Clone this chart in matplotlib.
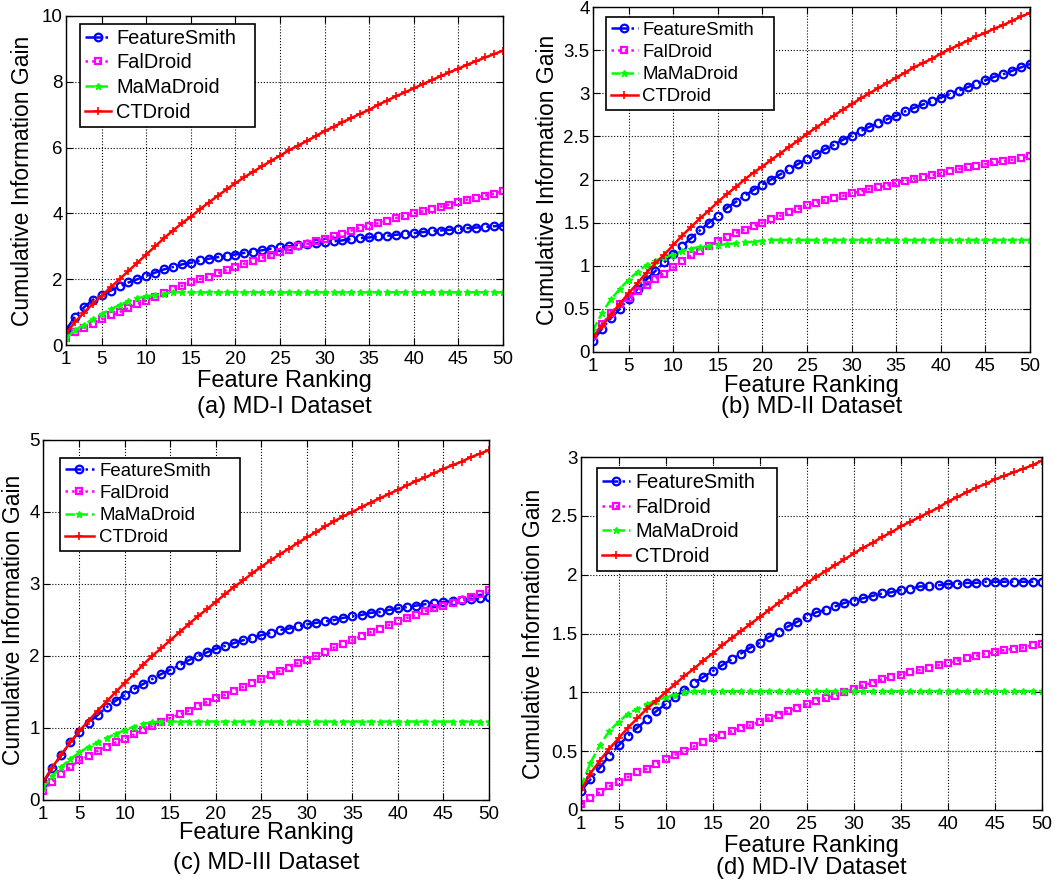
import matplotlib
matplotlib.use("Agg")
import matplotlib.pyplot as plt
from matplotlib.ticker import FormatStrFormatter
import numpy as np

plt.rcParams['font.family'] = ['Liberation Sans', 'DejaVu Sans']

ranks = list(range(1, 51))
methods = ["FeatureSmith", "FalDroid", "MaMaDroid", "CTDroid"]

# (a) MD-I
md1_featuresmith = [0.45, 0.86, 1.14, 1.37, 1.52, 1.65, 1.78, 1.90, 2.00, 2.10,
                    2.20, 2.30, 2.37, 2.45, 2.50, 2.57, 2.62, 2.67, 2.70, 2.75,
                    2.80, 2.84, 2.88, 2.93, 2.97, 3.00, 3.04, 3.07, 3.10, 3.12,
                    3.15, 3.18, 3.22, 3.25, 3.27, 3.30, 3.32, 3.35, 3.38, 3.40,
                    3.43, 3.46, 3.48, 3.50, 3.52, 3.55, 3.57, 3.59, 3.61, 3.63]
md1_faldroid = [0.22, 0.38, 0.52, 0.65, 0.78, 0.90, 1.00, 1.12, 1.25, 1.35,
                1.45, 1.57, 1.70, 1.80, 1.90, 2.00, 2.08, 2.18, 2.28, 2.38,
                2.47, 2.55, 2.65, 2.73, 2.82, 2.90, 3.00, 3.07, 3.15, 3.23,
                3.30, 3.38, 3.48, 3.57, 3.63, 3.70, 3.78, 3.86, 3.93, 4.00,
                4.06, 4.13, 4.20, 4.27, 4.35, 4.42, 4.48, 4.54, 4.60, 4.67]
md1_mamadroid = [0.22, 0.45, 0.62, 0.78, 0.95, 1.08, 1.22, 1.33, 1.42, 1.48,
                 1.52, 1.56, 1.60, 1.60, 1.60, 1.60, 1.60, 1.60, 1.60, 1.60,
                 1.60, 1.60, 1.60, 1.60, 1.60, 1.60, 1.60, 1.60, 1.60, 1.60,
                 1.60, 1.60, 1.60, 1.60, 1.60, 1.60, 1.60, 1.60, 1.60, 1.60,
                 1.60, 1.60, 1.60, 1.60, 1.60, 1.60, 1.60, 1.60, 1.60, 1.60]
md1_ctdroid = [0.35, 0.70, 0.98, 1.25, 1.50, 1.75, 2.00, 2.25, 2.50, 2.75,
               3.00, 3.25, 3.48, 3.70, 3.90, 4.12, 4.33, 4.53, 4.73, 4.92,
               5.10, 5.27, 5.43, 5.60, 5.75, 5.92, 6.06, 6.20, 6.35, 6.50,
               6.63, 6.77, 6.90, 7.03, 7.15, 7.30, 7.43, 7.56, 7.68, 7.80,
               7.93, 8.05, 8.17, 8.29, 8.40, 8.52, 8.63, 8.74, 8.84, 8.95]

# (b) MD-II
md2_featuresmith = [0.13, 0.27, 0.39, 0.50, 0.62, 0.73, 0.84, 0.94, 1.04, 1.14,
                    1.23, 1.32, 1.41, 1.50, 1.58, 1.67, 1.74, 1.81, 1.88, 1.94,
                    2.00, 2.06, 2.12, 2.18, 2.24, 2.29, 2.35, 2.40, 2.46, 2.51,
                    2.56, 2.61, 2.65, 2.70, 2.74, 2.79, 2.83, 2.87, 2.91, 2.95,
                    2.99, 3.03, 3.07, 3.11, 3.15, 3.19, 3.22, 3.26, 3.30, 3.34]
md2_faldroid = [0.18, 0.32, 0.45, 0.56, 0.63, 0.71, 0.78, 0.85, 0.91, 0.98,
                1.05, 1.12, 1.17, 1.23, 1.29, 1.33, 1.38, 1.42, 1.46, 1.50,
                1.54, 1.58, 1.62, 1.66, 1.70, 1.73, 1.76, 1.78, 1.81, 1.84,
                1.86, 1.89, 1.91, 1.93, 1.96, 1.98, 2.01, 2.03, 2.05, 2.07,
                2.10, 2.12, 2.14, 2.16, 2.18, 2.20, 2.21, 2.23, 2.25, 2.27]
md2_mamadroid = [0.25, 0.45, 0.61, 0.73, 0.84, 0.93, 1.01, 1.06, 1.10, 1.13,
                 1.17, 1.20, 1.22, 1.23, 1.24, 1.25, 1.26, 1.27, 1.28, 1.29,
                 1.30, 1.30, 1.30, 1.30, 1.30, 1.30, 1.30, 1.30, 1.30, 1.30,
                 1.30, 1.30, 1.30, 1.30, 1.30, 1.30, 1.30, 1.30, 1.30, 1.30,
                 1.30, 1.30, 1.30, 1.30, 1.30, 1.30, 1.30, 1.30, 1.30, 1.30]
md2_ctdroid = [0.17, 0.30, 0.43, 0.56, 0.68, 0.80, 0.92, 1.03, 1.13, 1.24,
               1.35, 1.45, 1.55, 1.64, 1.74, 1.83, 1.91, 2.00, 2.08, 2.15,
               2.23, 2.30, 2.38, 2.45, 2.53, 2.60, 2.67, 2.74, 2.81, 2.87,
               2.94, 3.00, 3.06, 3.12, 3.18, 3.24, 3.30, 3.35, 3.40, 3.46,
               3.51, 3.56, 3.61, 3.66, 3.70, 3.75, 3.79, 3.84, 3.89, 3.93]

# (c) MD-III
md3_featuresmith = [0.23, 0.44, 0.62, 0.80, 0.95, 1.07, 1.18, 1.29, 1.38, 1.46,
                    1.54, 1.61, 1.68, 1.75, 1.81, 1.87, 1.94, 2.00, 2.05, 2.10,
                    2.14, 2.18, 2.22, 2.25, 2.29, 2.32, 2.36, 2.38, 2.41, 2.44,
                    2.46, 2.48, 2.50, 2.53, 2.55, 2.57, 2.60, 2.61, 2.64, 2.66,
                    2.68, 2.70, 2.72, 2.73, 2.75, 2.76, 2.78, 2.79, 2.80, 2.82]
md3_faldroid = [0.13, 0.25, 0.36, 0.46, 0.55, 0.61, 0.68, 0.74, 0.80, 0.85,
                0.91, 0.97, 1.03, 1.08, 1.14, 1.19, 1.24, 1.30, 1.36, 1.41,
                1.46, 1.52, 1.57, 1.63, 1.68, 1.74, 1.79, 1.84, 1.90, 1.95,
                2.00, 2.06, 2.12, 2.17, 2.22, 2.28, 2.33, 2.38, 2.43, 2.48,
                2.53, 2.57, 2.62, 2.66, 2.70, 2.74, 2.78, 2.82, 2.86, 2.91]
md3_mamadroid = [0.17, 0.33, 0.46, 0.57, 0.66, 0.74, 0.80, 0.86, 0.92, 0.97,
                 1.02, 1.06, 1.08, 1.09, 1.09, 1.09, 1.09, 1.09, 1.09, 1.09,
                 1.09, 1.09, 1.09, 1.09, 1.09, 1.09, 1.09, 1.09, 1.09, 1.09,
                 1.09, 1.09, 1.09, 1.09, 1.09, 1.09, 1.09, 1.09, 1.09, 1.09,
                 1.09, 1.09, 1.09, 1.09, 1.09, 1.09, 1.09, 1.09, 1.09, 1.09]
md3_ctdroid = [0.25, 0.45, 0.63, 0.80, 0.96, 1.10, 1.24, 1.37, 1.50, 1.63,
               1.75, 1.88, 2.00, 2.11, 2.22, 2.33, 2.44, 2.55, 2.65, 2.75,
               2.86, 2.96, 3.05, 3.15, 3.24, 3.33, 3.41, 3.49, 3.57, 3.65,
               3.72, 3.80, 3.87, 3.94, 4.00, 4.07, 4.13, 4.19, 4.25, 4.31,
               4.37, 4.43, 4.48, 4.54, 4.60, 4.65, 4.70, 4.76, 4.81, 4.86]

# (d) MD-IV
md4_featuresmith = [0.16, 0.26, 0.36, 0.46, 0.55, 0.63, 0.70, 0.77, 0.84, 0.90,
                    0.96, 1.02, 1.08, 1.13, 1.18, 1.23, 1.28, 1.33, 1.38, 1.42,
                    1.47, 1.51, 1.56, 1.60, 1.64, 1.68, 1.70, 1.73, 1.76, 1.78,
                    1.80, 1.82, 1.84, 1.85, 1.87, 1.88, 1.90, 1.90, 1.91, 1.92,
                    1.92, 1.93, 1.93, 1.94, 1.94, 1.94, 1.94, 1.94, 1.94, 1.94]
md4_faldroid = [0.05, 0.10, 0.15, 0.20, 0.24, 0.28, 0.32, 0.35, 0.39, 0.43,
                0.47, 0.50, 0.54, 0.58, 0.61, 0.64, 0.67, 0.70, 0.72, 0.75,
                0.78, 0.81, 0.84, 0.87, 0.90, 0.93, 0.95, 0.97, 1.00, 1.03,
                1.06, 1.08, 1.11, 1.13, 1.15, 1.17, 1.19, 1.21, 1.23, 1.25,
                1.27, 1.29, 1.31, 1.33, 1.34, 1.36, 1.37, 1.38, 1.40, 1.41]
md4_mamadroid = [0.20, 0.40, 0.55, 0.67, 0.75, 0.82, 0.86, 0.90, 0.93, 0.96,
                 0.98, 1.00, 1.01, 1.01, 1.01, 1.01, 1.01, 1.01, 1.01, 1.01,
                 1.01, 1.01, 1.01, 1.01, 1.01, 1.01, 1.01, 1.01, 1.01, 1.01,
                 1.01, 1.01, 1.01, 1.01, 1.01, 1.01, 1.01, 1.01, 1.01, 1.01,
                 1.01, 1.01, 1.01, 1.01, 1.01, 1.01, 1.01, 1.01, 1.01, 1.01]
md4_ctdroid = [0.17, 0.31, 0.42, 0.52, 0.61, 0.70, 0.78, 0.86, 0.93, 1.00,
               1.07, 1.14, 1.20, 1.27, 1.33, 1.40, 1.46, 1.52, 1.58, 1.64,
               1.70, 1.76, 1.82, 1.87, 1.93, 1.98, 2.03, 2.08, 2.13, 2.18,
               2.23, 2.27, 2.32, 2.36, 2.41, 2.45, 2.49, 2.53, 2.57, 2.62,
               2.66, 2.70, 2.74, 2.77, 2.81, 2.84, 2.87, 2.90, 2.93, 2.97]

captions = ["(a) MD-I Dataset", "(b) MD-II Dataset",
            "(c) MD-III Dataset", "(d) MD-IV Dataset"]
y_max = [10, 4, 5, 3]
y_step = [2, 0.5, 1, 0.5]

datasets = [
    [md1_featuresmith, md1_faldroid, md1_mamadroid, md1_ctdroid],
    [md2_featuresmith, md2_faldroid, md2_mamadroid, md2_ctdroid],
    [md3_featuresmith, md3_faldroid, md3_mamadroid, md3_ctdroid],
    [md4_featuresmith, md4_faldroid, md4_mamadroid, md4_ctdroid],
]

W, H = 1055, 883
fig = plt.figure(figsize=(W / 100, H / 100), dpi=100)


def px_rect(left, top, right, bottom):
    return [left / W, 1 - bottom / H, (right - left) / W, (bottom - top) / H]


# panel frames in pixels: left, top, right, bottom
frames = [(66, 16, 503, 345), (593, 7, 1030, 352),
          (43, 440, 489, 800), (581, 457, 1042, 810)]
# legend box: left, top, width (axes fraction)
legend_box = [(0.032, 0.976, 0.400), (0.030, 0.971, 0.384),
              (0.038, 0.950, 0.404), (0.035, 0.969, 0.390)]
legend_size = [14.4, 13.4, 13.4, 14.4]
legend_handle = [1.3, 1.45, 1.6, 1.4]
ylabel_x = [23, 548, 14, 533]
xlabel_y = [381, 386, 833, 846]
caption_y = [407, 407, 863, 868]

styles = [
    dict(color=(0, 0, 1), linestyle='-.', marker='o', markersize=5.5,
         markerfacecolor='none', markeredgewidth=1.6),
    dict(color=(1, 0, 1), linestyle=':', marker='s', markersize=5,
         markerfacecolor='none', markeredgewidth=1.6),
    dict(color=(0, 1, 0), linestyle='--', marker='*', markersize=5,
         markeredgewidth=1.0),
    dict(color=(1, 0, 0), linestyle='-', marker='+', markersize=6,
         markeredgewidth=1.2),
]

for i, (series, frame) in enumerate(zip(datasets, frames)):
    ax = fig.add_axes(px_rect(*frame))
    for name, vals, st in zip(methods, series, styles):
        ax.plot(ranks, vals, label=name, linewidth=1.8, **st)
    ax.set_xlim(1, 50)
    ax.set_ylim(0, y_max[i])
    ax.set_xticks([1, 5, 10, 15, 20, 25, 30, 35, 40, 45, 50])
    ax.set_yticks(np.arange(0, y_max[i] + 1e-9, y_step[i]))
    ax.yaxis.set_major_formatter(FormatStrFormatter('%g'))
    ax.tick_params(direction='in', top=True, right=True, length=5,
                   width=0.8, labelsize=13.5)
    ax.tick_params(axis='x', pad=4)
    ax.tick_params(axis='y', pad=2.5)
    ax.grid(True, color='black', linestyle=':', linewidth=0.8)
    for sp in ax.spines.values():
        sp.set_linewidth(1.0)
    lx, ly, lw = legend_box[i]
    leg = ax.legend(loc='upper left', bbox_to_anchor=(lx, ly - 0.01, lw, 0.01),
                    mode='expand', fontsize=legend_size[i], frameon=True,
                    fancybox=False, edgecolor='black', framealpha=1,
                    handlelength=legend_handle[i], handletextpad=0.25,
                    labelspacing=0.28, borderpad=0.25, borderaxespad=0)
    leg.get_frame().set_linewidth(1.2)

    l, t, r, b = frame
    cx = (l + r) / 2 / W
    fig.text(ylabel_x[i] / W, 1 - (t + b) / 2 / H, "Cumulative Information Gain",
             rotation=90, ha='center', va='center', fontsize=16.5)
    fig.text(cx, 1 - xlabel_y[i] / H, "Feature Ranking",
             ha='center', va='center', fontsize=17)
    fig.text(cx, 1 - caption_y[i] / H, captions[i],
             ha='center', va='center', fontsize=17)

fig.savefig("out.png", dpi=100)
